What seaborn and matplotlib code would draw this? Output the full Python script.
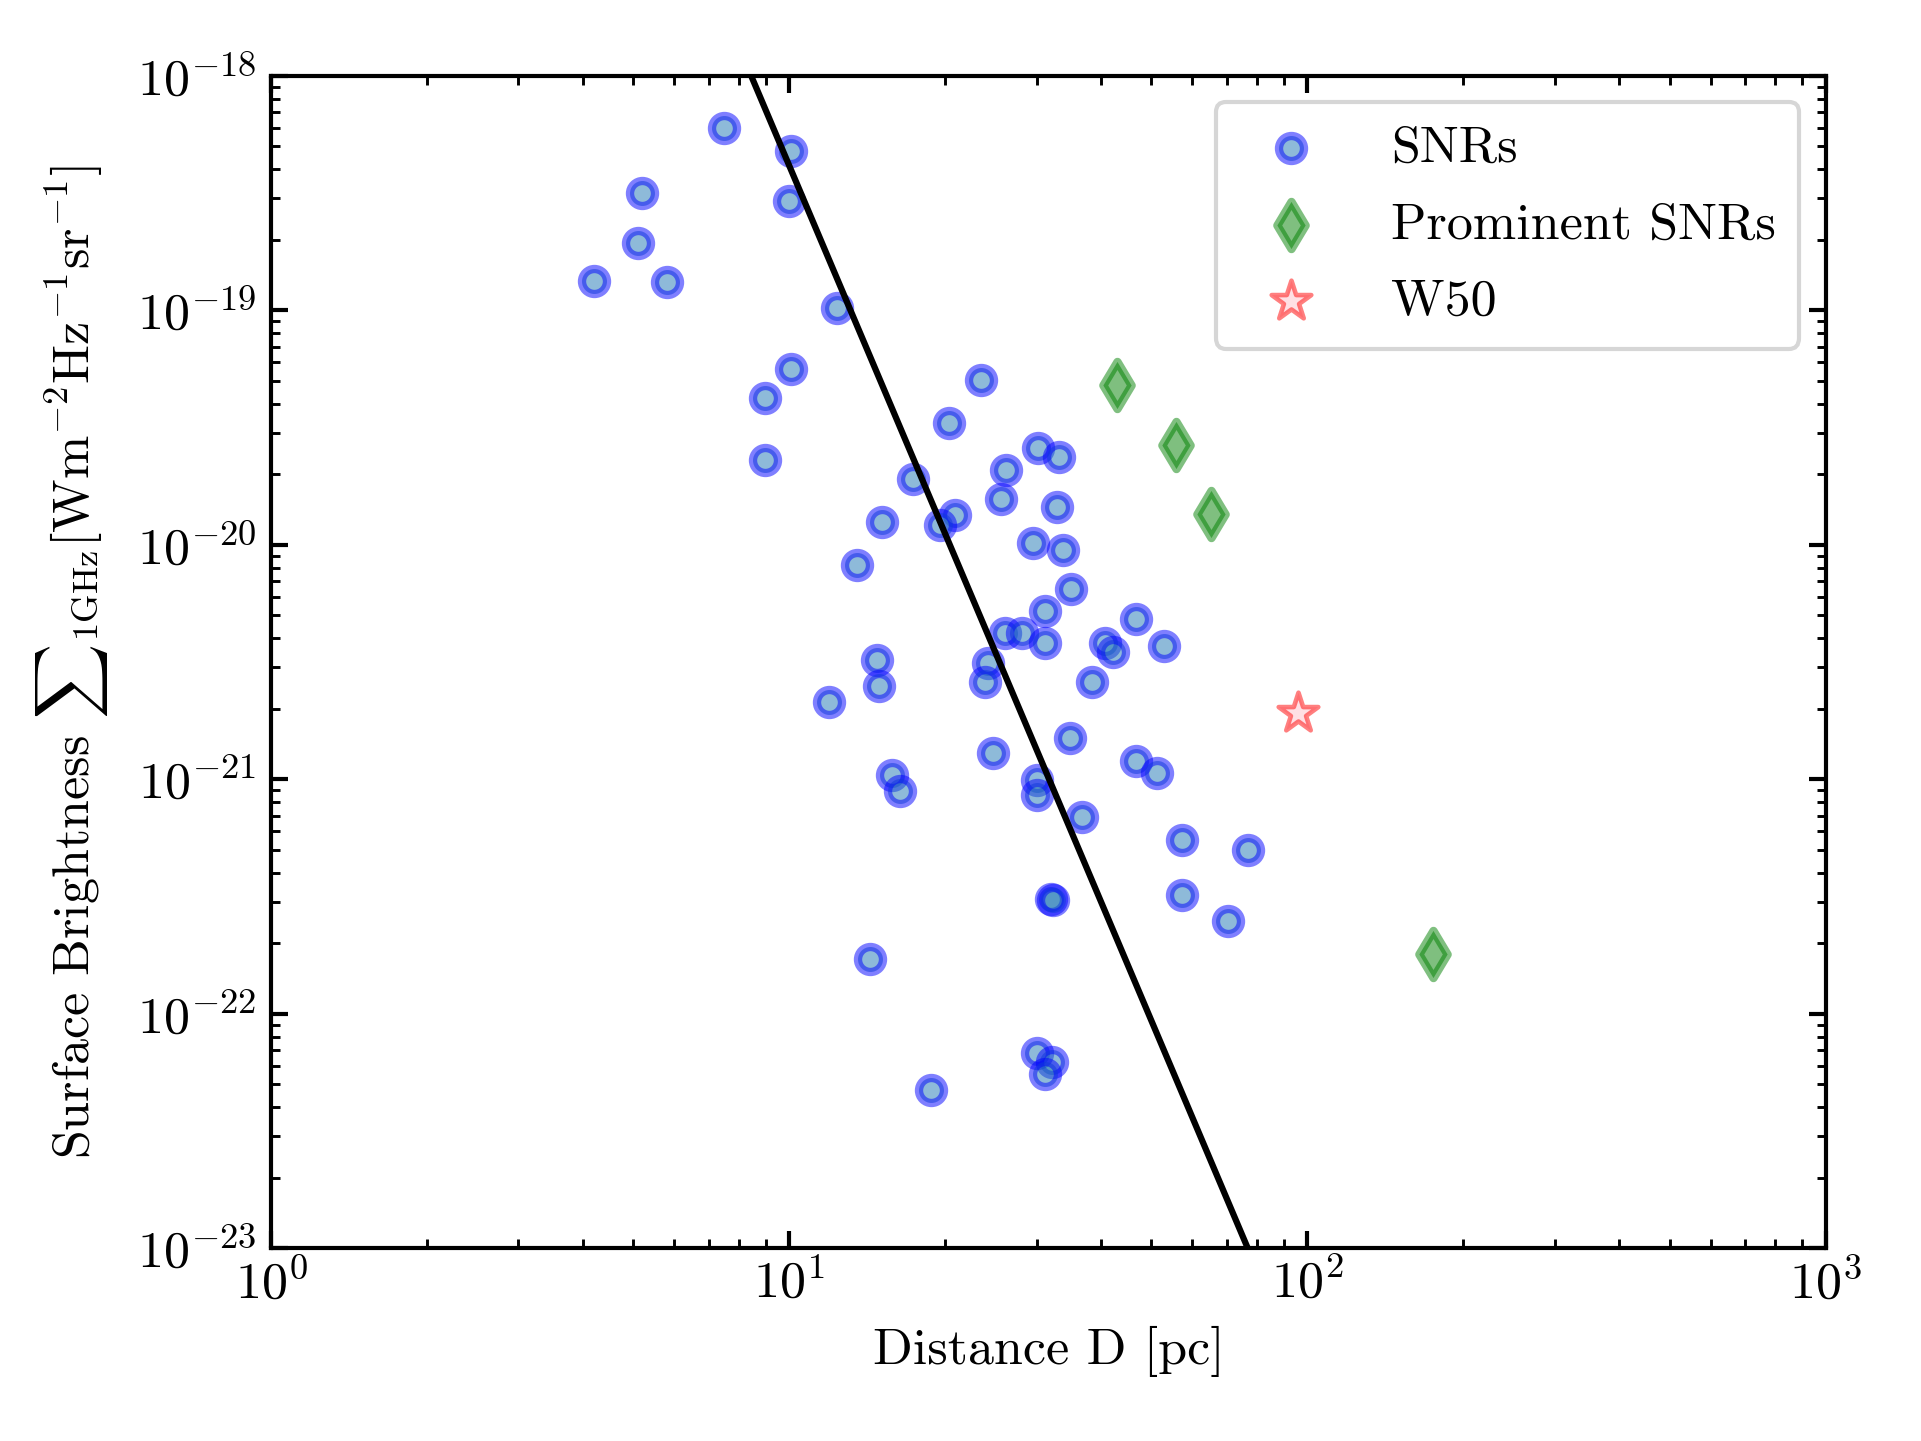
import numpy as np
import pandas as pd
import matplotlib
matplotlib.use("Agg")
import matplotlib.pyplot as plt
from matplotlib.ticker import FixedLocator, LogLocator, FuncFormatter, NullFormatter
import seaborn as sns

# ---------------- data ----------------
snr_D = [7.49, 10.07, 5.195, 9.98, 5.095, 4.20, 5.80, 12.38, 10.09, 8.99,
         23.4, 20.35, 8.99, 30.23, 33.14, 26.16, 17.34, 25.58, 32.89, 15.07,
         20.87, 19.53, 29.53, 33.69, 13.52, 35.0, 31.18, 46.6, 26.08, 28.08,
         31.18, 40.66, 42.19, 52.9, 14.78, 24.14, 14.89, 23.85, 38.33, 11.94,
         34.8, 24.75, 46.6, 51.2, 15.78, 16.35, 30.01, 30.01, 36.66, 57.2,
         76.7, 32.0, 32.3, 57.2, 70.2, 14.28, 30.0, 32.1, 31.1, 18.75]
snr_S = [6.01e-19, 4.78e-19, 3.17e-19, 2.93e-19, 1.93e-19, 1.337e-19, 1.316e-19, 1.026e-19, 5.64e-20, 4.21e-20,
         5.04e-20, 3.30e-20, 2.29e-20, 2.59e-20, 2.38e-20, 2.08e-20, 1.90e-20, 1.57e-20, 1.445e-20, 1.247e-20,
         1.34e-20, 1.214e-20, 1.02e-20, 9.50e-21, 8.2e-21, 6.48e-21, 5.22e-21, 4.81e-21, 4.22e-21, 4.20e-21,
         3.80e-21, 3.82e-21, 3.48e-21, 3.70e-21, 3.23e-21, 3.12e-21, 2.50e-21, 2.59e-21, 2.59e-21, 2.14e-21,
         1.496e-21, 1.30e-21, 1.20e-21, 1.06e-21, 1.04e-21, 8.94e-22, 9.93e-22, 8.57e-22, 6.92e-22, 5.49e-22,
         4.99e-22, 3.10e-22, 3.05e-22, 3.20e-22, 2.50e-22, 1.72e-22, 6.81e-23, 6.23e-23, 5.56e-23, 4.75e-23]

prom_D = [42.9, 55.7, 65.1, 175.0]
prom_S = [4.82e-20, 2.66e-20, 1.353e-20, 1.795e-22]

w50_D = [95.9]
w50_S = [1.917e-21]

# Sigma-D relation: Sigma = Sigma0 * (D / D0)^(-beta)
rel_beta = 5.216
rel_D0 = 8.44
rel_Sigma0 = 1e-18

series_labels = ["SNRs", "Prominent SNRs", "W50"]
xtick_exps = [0, 1, 2, 3]
ytick_exps = [-23, -22, -21, -20, -19, -18]

# ---------------- style ----------------
sns.set_theme(style="ticks")
FS = 12.5
plt.rcParams.update({
    "font.family": ["cmr10", "DejaVu Serif"],
    "mathtext.fontset": "cm",
    "axes.formatter.use_mathtext": True,
    "axes.unicode_minus": True,
    "font.size": FS,
    "axes.linewidth": 1.0,
    "axes.edgecolor": "black",
    "text.color": "black",
    "axes.labelcolor": "black",
    "xtick.color": "black",
    "ytick.color": "black",
})

fig = plt.figure(figsize=(1921 / 300, 1441 / 300), dpi=300)
ax = fig.add_axes([0.1412, 0.1337, 0.9503 - 0.1412, 0.9474 - 0.1337])

snr_df = pd.DataFrame({"D": snr_D, "S": snr_S})
prom_df = pd.DataFrame({"D": prom_D, "S": prom_S})
w50_df = pd.DataFrame({"D": w50_D, "S": w50_S})

sns.scatterplot(data=snr_df, x="D", y="S", ax=ax, marker="o", s=36,
                color="#1f77b4", facecolor="#1f77b4", edgecolor="blue", linewidth=2,
                alpha=0.5, label=series_labels[0], zorder=2)
sns.scatterplot(data=prom_df, x="D", y="S", ax=ax, marker="d", s=64,
                color="green", facecolor="green", edgecolor="green", linewidth=2,
                alpha=0.5, label=series_labels[1], zorder=2)
sns.scatterplot(data=w50_df, x="D", y="S", ax=ax, marker="*", s=100,
                color="pink", facecolor="pink", edgecolor="red", linewidth=1.1,
                alpha=0.5, label=series_labels[2], zorder=2)

ax.set_xscale("log")
ax.set_yscale("log")

line_D = np.logspace(0, 3, 400)
line_S = rel_Sigma0 * (line_D / rel_D0) ** (-rel_beta)
ax.plot(line_D, line_S, color="black", lw=1.5, zorder=3)

ax.set_xlim(10 ** xtick_exps[0], 10 ** xtick_exps[-1])
ax.set_ylim(10.0 ** ytick_exps[0], 10.0 ** ytick_exps[-1])

ax.xaxis.set_major_locator(FixedLocator([10.0 ** e for e in xtick_exps]))
ax.yaxis.set_major_locator(FixedLocator([10.0 ** e for e in ytick_exps]))
ax.xaxis.set_minor_locator(LogLocator(base=10, subs=np.arange(2, 10), numticks=20))
ax.yaxis.set_minor_locator(LogLocator(base=10, subs=np.arange(2, 10), numticks=20))
fmt = FuncFormatter(lambda v, p: r"$10^{%d}$" % int(round(np.log10(v))))
ax.xaxis.set_major_formatter(fmt)
ax.yaxis.set_major_formatter(fmt)
ax.xaxis.set_minor_formatter(NullFormatter())
ax.yaxis.set_minor_formatter(NullFormatter())

ax.tick_params(which="both", direction="in", top=True, right=True,
               labelsize=FS)
ax.tick_params(which="major", length=4, width=1.0)
ax.tick_params(which="minor", length=2.2, width=0.7)
ax.tick_params(axis="x", which="major", pad=2.5)

ax.set_xlabel("Distance D [pc]", fontsize=FS, labelpad=4)
ax.set_ylabel(r"Surface Brightness ${\sum}_{\rm 1GHz}[\rm Wm^{-2}Hz^{-1}sr^{-1}]$",
              fontsize=FS, labelpad=6.5)

for sp in ax.spines.values():
    sp.set_visible(True)
    sp.set_linewidth(1.0)
    sp.set_color("black")

leg = ax.legend(loc="upper right", fontsize=FS, frameon=True, fancybox=True,
                framealpha=0.8, edgecolor="0.8", borderaxespad=0.5,
                labelspacing=0.58, handletextpad=0.92, borderpad=0.45)

fig.savefig("out.png", dpi=300)
